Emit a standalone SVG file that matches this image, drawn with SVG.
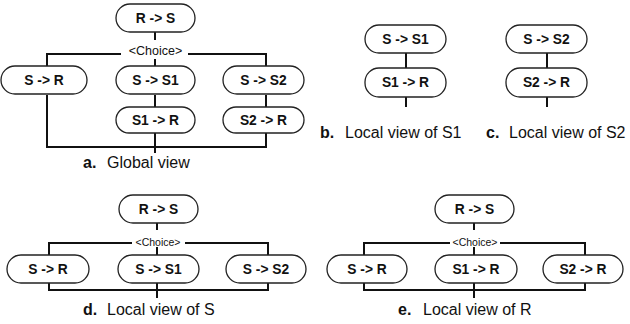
<svg xmlns="http://www.w3.org/2000/svg" width="630" height="324" viewBox="0 0 630 324">
<style>
.box{fill:#fff;stroke:#222;stroke-width:1.3}
.lbl{font-family:"Liberation Sans",Arial,sans-serif;font-weight:bold;font-size:13.8px;text-anchor:middle;fill:#111}
.ch{font-family:"Liberation Sans",Arial,sans-serif;font-size:12.5px;text-anchor:middle;fill:#111}
.ch2{font-family:"Liberation Sans",Arial,sans-serif;font-size:10.5px;text-anchor:middle;fill:#111}
.cap{font-family:"Liberation Sans",Arial,sans-serif;font-size:16px;fill:#111}
.capb{font-family:"Liberation Sans",Arial,sans-serif;font-size:16px;font-weight:bold;fill:#111}
.ln{fill:none;stroke:#111;stroke-width:2}
</style>
<rect width="630" height="324" fill="#fff"/>
<g id="connectors">
<path class="ln" d="M155 32V40M155 59V67M47 67V54H121M188 54H266V67M155 95V107M266 95V107M47 95V147H266V133M155 133V153"/>
<path class="ln" d="M406 53V68M406 97V107"/>
<path class="ln" d="M547 53V68M547 97V107"/>
<path class="ln" d="M157 223V230M157 247V255M49 255V243H132M185 243H268V255M49 283V290H268V283M157 283V298"/>
<path class="ln" d="M474 223V230M474 247V255M364 255V243H450M500 243H585V255M364 283V290H585V283M474 283V298"/>
</g>
<g id="a-RS"><rect class="box" x="116" y="4" width="79" height="28" rx="14"/><text class="lbl" x="155.5" y="23">R -&gt; S</text></g>
<text class="ch" x="155.5" y="55">&lt;Choice&gt;</text>
<g id="a-SR"><rect class="box" x="1" y="66" width="86" height="28" rx="14"/><text class="lbl" x="44" y="85">S -&gt; R</text></g>
<g id="a-SS1"><rect class="box" x="116" y="66" width="79" height="28" rx="14"/><text class="lbl" x="155.5" y="85">S -&gt; S1</text></g>
<g id="a-SS2"><rect class="box" x="223" y="66" width="81" height="28" rx="14"/><text class="lbl" x="263.5" y="85">S -&gt; S2</text></g>
<g id="a-S1R"><rect class="box" x="116" y="107" width="79" height="26" rx="13"/><text class="lbl" x="155.5" y="125">S1 -&gt; R</text></g>
<g id="a-S2R"><rect class="box" x="223" y="107" width="81" height="26" rx="13"/><text class="lbl" x="263.5" y="125">S2 -&gt; R</text></g>
<text x="83" y="168"><tspan class="capb">a.</tspan><tspan class="cap" x="107">Global view</tspan></text>

<g id="b-SS1"><rect class="box" x="365" y="25" width="81" height="28" rx="14"/><text class="lbl" x="405.5" y="44">S -&gt; S1</text></g>
<g id="b-S1R"><rect class="box" x="365" y="68" width="81" height="29" rx="14"/><text class="lbl" x="405.5" y="87">S1 -&gt; R</text></g>
<text x="320" y="138"><tspan class="capb">b.</tspan><tspan class="cap" x="345">Local view of S1</tspan></text>

<g id="c-SS2"><rect class="box" x="506" y="25" width="81" height="28" rx="14"/><text class="lbl" x="546.5" y="44">S -&gt; S2</text></g>
<g id="c-S2R"><rect class="box" x="506" y="68" width="81" height="29" rx="14"/><text class="lbl" x="546.5" y="87">S2 -&gt; R</text></g>
<text x="486" y="138"><tspan class="capb">c.</tspan><tspan class="cap" x="509">Local view of S2</tspan></text>

<g id="d-RS"><rect class="box" x="119" y="195" width="79" height="28" rx="14"/><text class="lbl" x="158.5" y="214">R -&gt; S</text></g>
<text class="ch2" x="158" y="246">&lt;Choice&gt;</text>
<g id="d-SR"><rect class="box" x="7" y="255" width="82" height="28" rx="14"/><text class="lbl" x="48" y="274">S -&gt; R</text></g>
<g id="d-SS1"><rect class="box" x="118" y="255" width="81" height="28" rx="14"/><text class="lbl" x="158.5" y="274">S -&gt; S1</text></g>
<g id="d-SS2"><rect class="box" x="226" y="255" width="80" height="28" rx="14"/><text class="lbl" x="266" y="274">S -&gt; S2</text></g>
<text x="83" y="315"><tspan class="capb">d.</tspan><tspan class="cap" x="107">Local view of S</tspan></text>

<g id="e-RS"><rect class="box" x="435" y="195" width="79" height="28" rx="14"/><text class="lbl" x="474.5" y="214">R -&gt; S</text></g>
<text class="ch2" x="475" y="246">&lt;Choice&gt;</text>
<g id="e-SR"><rect class="box" x="327" y="255" width="80" height="28" rx="14"/><text class="lbl" x="367" y="274">S -&gt; R</text></g>
<g id="e-S1R"><rect class="box" x="435" y="255" width="82" height="28" rx="14"/><text class="lbl" x="476" y="274">S1 -&gt; R</text></g>
<g id="e-S2R"><rect class="box" x="543" y="255" width="80" height="28" rx="14"/><text class="lbl" x="583" y="274">S2 -&gt; R</text></g>
<text x="398" y="315"><tspan class="capb">e.</tspan><tspan class="cap" x="423">Local view of R</tspan></text>
</svg>
